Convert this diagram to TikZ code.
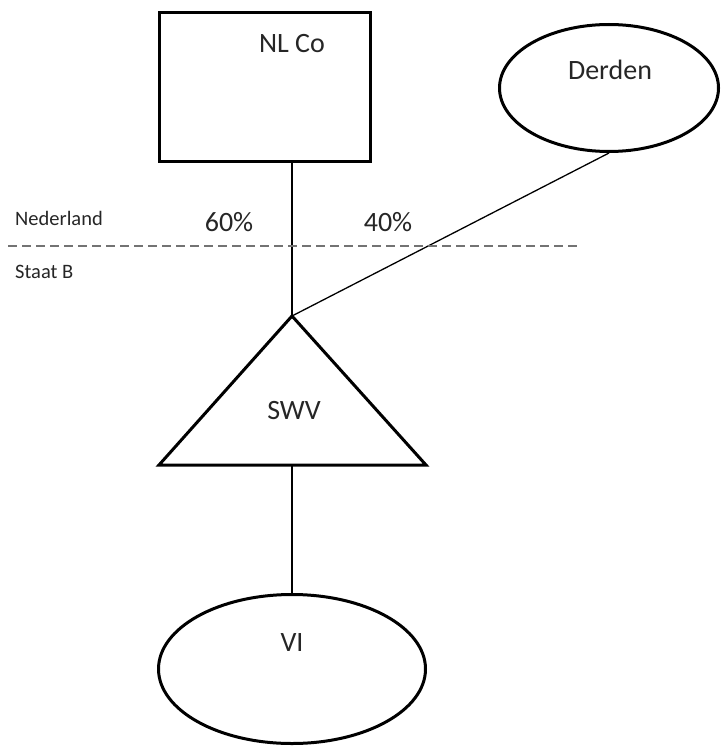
\documentclass[tikz,border=0pt]{standalone}
\usepackage{fontspec}
\setmainfont{Carlito}
\usetikzlibrary{shapes.geometric}
\tikzstyle{entiteit} = [draw=black, line width=3pt, inner sep=0pt]
\tikzstyle{naam} = [font=\fontsize{28}{30}\selectfont, text=black!85, inner sep=0pt]
\tikzstyle{land} = [font=\fontsize{20.5}{22}\selectfont, text=black!85, inner sep=0pt]
\tikzstyle{lijn} = [line width=1.3pt]
\tikzstyle{grens} = [draw=black!55, line width=2pt, dash pattern=on 8.5pt off 5.5pt]

\begin{document}
\begin{tikzpicture}[x=1pt,y=-1pt]
		\useasboundingbox (0,0) rectangle (722,746);
		\node[entiteit, rectangle, minimum width=211pt, minimum height=149pt](nlco) at (265,87) {};
		\node[naam] (nlcotxt) at (292,44) {NL Co};
		\node[entiteit, ellipse, minimum width=219pt, minimum height=127pt](derden) at (609,88) {};
		\node[naam] (derdentxt) at (610,70) {Derden};
		\coordinate (swvtop) at (292,316);
		\coordinate (swvl) at (159,465);
		\coordinate (swvr) at (426,465);
		\coordinate (swvbot) at (292,465);
		\draw[line width=3pt, line join=miter] (swvtop) -- (swvr) -- (swvl) -- cycle;
		\node[naam] (swvtxt) at (294,411) {SWV};
		\node[entiteit, ellipse, minimum width=267pt, minimum height=149pt](vi) at (292,669) {};
		\node[naam] (vitxt) at (292,643) {VI};
		% deelnemingen
		\draw[lijn] (nlco.south -| swvtop) -- (swvtop);
		\draw[lijn] (derden.south) -- (swvtop);
		\draw[lijn] (swvbot) -- (vi.north);
		\node[naam] (zestig) at (229,222) {60\%};
		\node[naam] (veertig) at (388,222) {40\%};
		% landsgrens
		\draw[grens] (8,246) -- (578,246);
		\node[land, anchor=base west] (nl) at (15,225) {Nederland};
		\node[land, anchor=base west] (staatb) at (15,278) {Staat B};
	\end{tikzpicture}
\end{document}
